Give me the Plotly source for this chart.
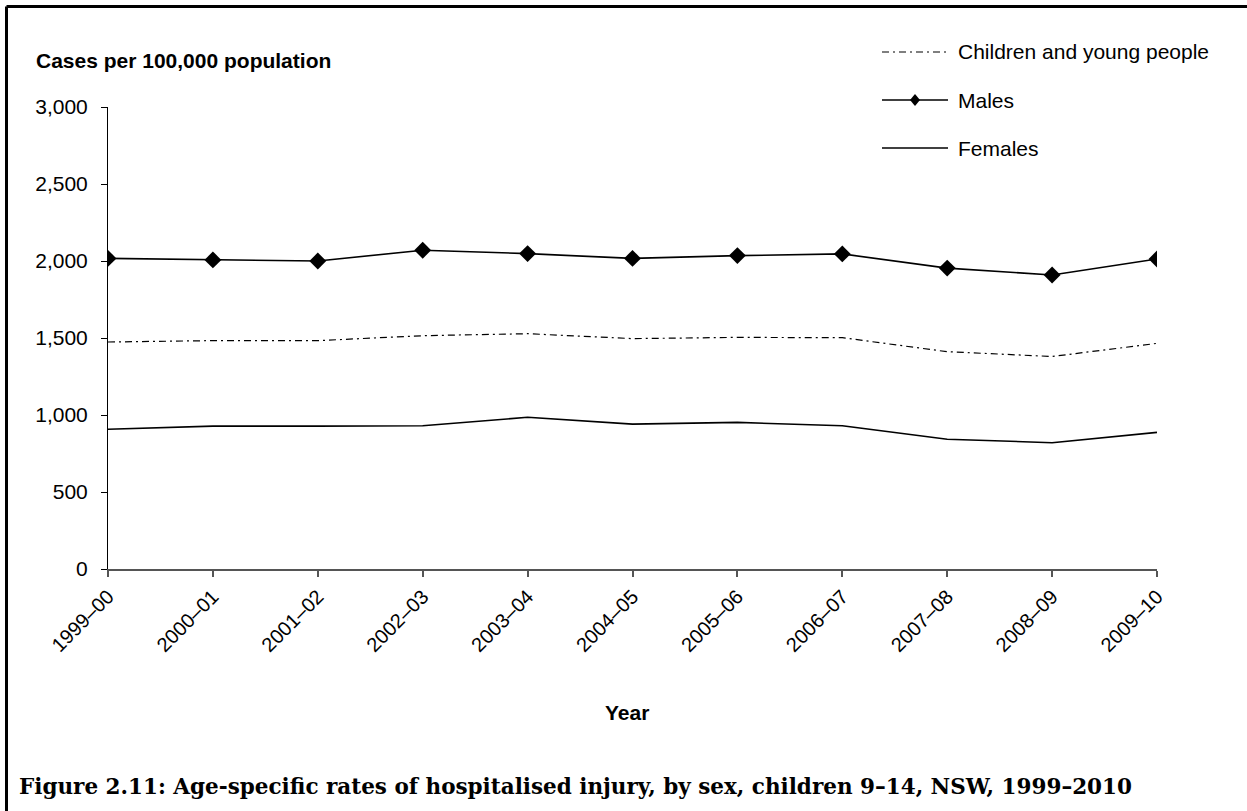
import plotly.graph_objects as go

years = ["1999–00", "2000–01", "2001–02", "2002–03", "2003–04", "2004–05",
         "2005–06", "2006–07", "2007–08", "2008–09", "2009–10"]
children = [1474, 1483, 1483, 1515, 1528, 1496, 1504, 1502, 1411, 1380, 1465]
males = [2017, 2007, 2000, 2070, 2048, 2017, 2035, 2046, 1954, 1909, 2013]
females = [907, 928, 928, 930, 985, 941, 952, 930, 843, 820, 887]

# body margin is removed in the page, so figure pixels == screen pixels
W, H = 1247, 811
L, R, T, B = 108, 90, 107, 242

def px(x):
    return (x - L) / (W - L - R)

def py(y):
    return (H - B - y) / (H - T - B)

FONT = "Liberation Sans, Arial, sans-serif"

fig = go.Figure()
fig.add_trace(go.Scatter(x=years, y=children, name="Children and young people", mode="lines",
                         line=dict(color="black", width=1.2, dash="7px,4px,2px,4px"),
                         showlegend=False))
fig.add_trace(go.Scatter(x=years, y=males, name="Males", mode="lines+markers",
                         line=dict(color="black", width=1.6),
                         marker=dict(symbol="diamond", size=13, color="black"),
                         showlegend=False))
fig.add_trace(go.Scatter(x=years, y=females, name="Females", mode="lines",
                         line=dict(color="black", width=1.6),
                         showlegend=False))

shapes = []
# frame (left and top edges)
shapes.append(dict(type="line", xref="paper", yref="paper", x0=px(6.5), x1=px(1260), y0=py(6.5), y1=py(6.5),
                   line=dict(color="black", width=3)))
shapes.append(dict(type="line", xref="paper", yref="paper", x0=px(6.5), x1=px(6.5), y0=py(6.5), y1=py(830),
                   line=dict(color="black", width=3)))

# manual legend
leg_y = [52, 100, 148]
leg_names = ["Children and young people", "Males", "Females"]
dashes = ["7px,4px,2px,4px", "solid", "solid"]
annotations = []
for yy, nm, ds in zip(leg_y, leg_names, dashes):
    shapes.append(dict(type="line", xref="paper", yref="paper", x0=px(882), x1=px(948), y0=py(yy), y1=py(yy),
                       line=dict(color="black", width=1.2 if ds != "solid" else 1.6, dash=ds)))
    annotations.append(dict(text=nm, xref="paper", yref="paper", x=px(956), y=py(yy),
                            xanchor="left", yanchor="middle", showarrow=False,
                            font=dict(family=FONT, size=21, color="black")))
# legend diamond for Males
cx, cy, hw, hh = 915, 100, 5, 6
path = "M {} {} L {} {} L {} {} L {} {} Z".format(
    px(cx - hw), py(cy), px(cx), py(cy - hh), px(cx + hw), py(cy), px(cx), py(cy + hh))
shapes.append(dict(type="path", xref="paper", yref="paper", path=path,
                   fillcolor="black", line=dict(color="black", width=0)))

annotations.append(dict(text="<b>Cases per 100,000 population</b>", xref="paper", yref="paper",
                        x=px(34), y=py(60), xanchor="left", yanchor="middle", showarrow=False,
                        font=dict(family=FONT, size=21, color="black")))
annotations.append(dict(text="<b>Year</b>", xref="paper", yref="paper",
                        x=px(627), y=py(712), xanchor="center", yanchor="middle", showarrow=False,
                        font=dict(family=FONT, size=21, color="black")))
annotations.append(dict(text="<b>Figure 2.11: Age-specific rates of hospitalised injury, by sex, children 9–14, NSW, 1999–2010</b>",
                        xref="paper", yref="paper",
                        x=px(17), y=py(786), xanchor="left", yanchor="middle", showarrow=False,
                        font=dict(family="DejaVu Serif, serif", size=21.5, color="black")))

fig.update_layout(
    width=W, height=H,
    margin=dict(l=L, r=R, t=T, b=B),
    paper_bgcolor="white", plot_bgcolor="white",
    shapes=shapes, annotations=annotations,
    showlegend=False,
    xaxis=dict(type="category", range=[0, 10], showgrid=False, zeroline=False,
               showline=True, linecolor="#555555", linewidth=2,
               ticks="outside", ticklen=6, tickcolor="#555555", tickwidth=1.5,
               tickangle=-45, tickfont=dict(family=FONT, size=20, color="black")),
    yaxis=dict(range=[0, 3000], dtick=500, tickformat=",", showgrid=False, zeroline=False,
               showline=True, linecolor="black", linewidth=1,
               ticks="outside", ticklen=6, tickcolor="black", tickwidth=1,
               ticklabelstandoff=9,
               tickfont=dict(family=FONT, size=21, color="black")),
)

fig.write_html("out.html", config={"displayModeBar": False},
               post_script="document.body.style.margin='0';document.body.style.overflow='hidden';")
